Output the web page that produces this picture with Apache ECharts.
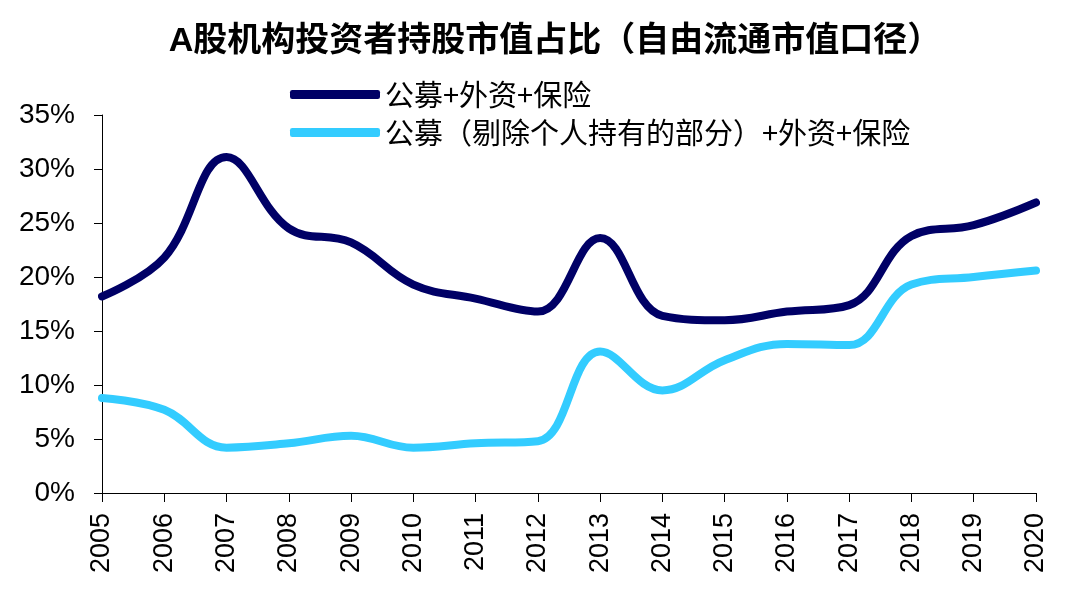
<!DOCTYPE html>
<html>
<head>
<meta charset="utf-8">
<script src="https://cdn.jsdelivr.net/npm/echarts@6/dist/echarts.min.js"></script>
<style>html,body{margin:0;padding:0;background:#fff}#c{width:1080px;height:600px}</style>
</head>
<body>
<div id="c"></div>
<script>
const years = ['2005','2006','2007','2008','2009','2010','2011','2012','2013','2014','2015','2016','2017','2018','2019','2020'];
const seriesNames = ['公募+外资+保险', '公募（剔除个人持有的部分）+外资+保险'];
const totalShare = [18.2, 21.8, 31.1, 24.5, 23.2, 19.3, 18.0, 16.8, 23.6, 16.4, 16.0, 16.8, 17.4, 23.8, 24.8, 26.9];
const exIndividualShare = [8.8, 7.7, 4.2, 4.6, 5.3, 4.2, 4.6, 4.8, 13.1, 9.5, 12.3, 13.8, 13.7, 19.3, 20.0, 20.6];
const yTicks = [0, 5, 10, 15, 20, 25, 30, 35];

const chart = echarts.init(document.getElementById('c'));
chart.setOption({
  animation: false,
  title: {
    text: 'A股机构投资者持股市值占比（自由流通市值口径）',
    left: 550, top: 20, textAlign: 'center',
    textStyle: { fontFamily: 'Liberation Sans, Noto Sans CJK SC', fontWeight: 'bold', fontSize: 34, color: '#000' }
  },
  legend: {
    orient: 'vertical', left: 285, top: 75, itemGap: 9,
    itemWidth: 90, itemHeight: 9, icon: 'roundRect',
    textStyle: { fontFamily: 'Noto Sans CJK SC', fontSize: 29, color: '#000' },
    data: seriesNames
  },
  grid: { left: 102, right: 44, top: 115, bottom: 107 },
  xAxis: {
    type: 'category', data: years, boundaryGap: false,
    axisLine: { lineStyle: { color: '#000', width: 1 } },
    axisTick: { alignWithLabel: true, length: 9, lineStyle: { color: '#000' } },
    axisLabel: { rotate: 90, margin: 20, fontFamily: 'Liberation Sans', fontSize: 27, color: '#000' }
  },
  yAxis: {
    type: 'value', min: yTicks[0], max: yTicks[yTicks.length - 1], interval: 5,
    axisLine: { show: true, lineStyle: { color: '#000', width: 1 } },
    axisTick: { show: true, length: 8, lineStyle: { color: '#000' } },
    splitLine: { show: false },
    axisLabel: { formatter: '{value}%', margin: 27, fontFamily: 'Liberation Sans', fontSize: 28, color: '#000' }
  },
  series: [
    { name: seriesNames[0], type: 'line', data: totalShare, smooth: 0.4, symbol: 'none',
      lineStyle: { width: 8, color: '#000066', cap: 'round' }, itemStyle: { color: '#000066' } },
    { name: seriesNames[1], type: 'line', data: exIndividualShare, smooth: 0.4, symbol: 'none',
      lineStyle: { width: 8, color: '#33CCFF', cap: 'round' }, itemStyle: { color: '#33CCFF' } }
  ]
});
</script>
</body>
</html>
